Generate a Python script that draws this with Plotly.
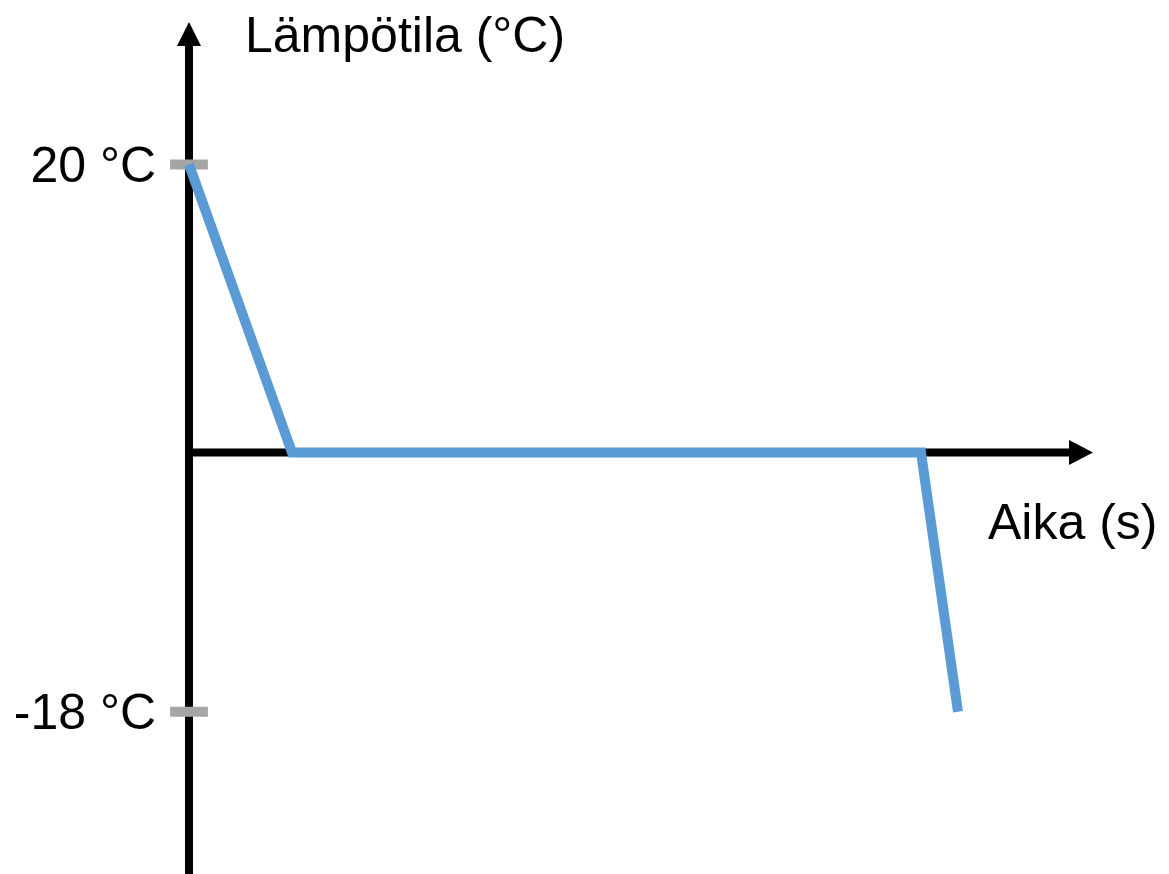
import plotly.graph_objects as go

# Data
time = [0, 1.03, 7.32, 7.69]
temperature = [20, 0, 0, -18]
tick_values = [20, -18]
tick_labels = ["20 °C", "-18 °C"]
x_title = "Aika (s)"
y_title = "Lämpötila (°C)"

W, H = 1169, 874
PX_X = 100.0   # pixels per time unit
PX_Y = 14.4    # pixels per degree
X0_PX = 189    # pixel of time 0
Y0_PX = 452.5  # pixel of temperature 0

xr = [-X0_PX / PX_X, (W - X0_PX) / PX_X]
yr = [-(H - Y0_PX) / PX_Y, Y0_PX / PX_Y]

def xd(px):
    return (px - X0_PX) / PX_X

def yd(py):
    return (Y0_PX - py) / PX_Y

FONT = "Liberation Sans, Arial, sans-serif"

fig = go.Figure()

# gray tick marks on the temperature axis
fig.add_trace(go.Scatter(
    x=[0] * len(tick_values), y=tick_values, mode="markers",
    marker=dict(symbol="line-ew", size=27, line=dict(width=10, color="#A5A5A5")),
    hoverinfo="skip", showlegend=False, cliponaxis=False,
))

# temperature curve
fig.add_trace(go.Scatter(
    x=time, y=temperature, mode="lines",
    line=dict(color="#5B9BD5", width=10),
    showlegend=False, hoverinfo="x+y",
))

shapes = [
    # vertical axis line
    dict(type="line", xref="x", yref="y", x0=0, x1=0, y0=yr[0] - 1, y1=yd(43),
         line=dict(color="black", width=8), layer="below"),
    # vertical arrowhead
    dict(type="path", xref="x", yref="y",
         path=f"M {xd(X0_PX-12)} {yd(46)} L {xd(X0_PX)} {yd(22)} L {xd(X0_PX+12)} {yd(46)} Z",
         fillcolor="black", line=dict(width=0), layer="below"),
    # horizontal axis line
    dict(type="line", xref="x", yref="y", x0=xd(X0_PX - 4), x1=xd(1072), y0=0, y1=0,
         line=dict(color="black", width=8), layer="below"),
    # horizontal arrowhead
    dict(type="path", xref="x", yref="y",
         path=f"M {xd(1069)} {yd(Y0_PX-12.5)} L {xd(1093)} {yd(Y0_PX)} L {xd(1069)} {yd(Y0_PX+12.5)} Z",
         fillcolor="black", line=dict(width=0), layer="below"),
]

annotations = [
    dict(text=y_title, xref="paper", yref="paper", x=243 / W, y=1 - 35 / H,
         xanchor="left", yanchor="middle", showarrow=False,
         font=dict(family=FONT, size=50, color="black")),
    dict(text=x_title, xref="paper", yref="paper", x=986 / W, y=1 - 522 / H,
         xanchor="left", yanchor="middle", showarrow=False,
         font=dict(family=FONT, size=50, color="black")),
]

fig.update_layout(
    width=W, height=H,
    margin=dict(l=0, r=0, t=0, b=0),
    paper_bgcolor="white", plot_bgcolor="white",
    shapes=shapes, annotations=annotations,
    showlegend=False,
    xaxis=dict(range=xr, domain=[0, 1], visible=False, fixedrange=True),
    yaxis=dict(range=yr, domain=[0, 1], anchor="free", position=X0_PX / W,
               showline=False, showgrid=False, zeroline=False, ticks="",
               tickvals=tick_values, ticktext=tick_labels,
               ticklabelstandoff=33,
               tickfont=dict(family=FONT, size=50, color="black"),
               fixedrange=True),
)

fig.write_html(
    "out.html",
    config={"displayModeBar": False},
    post_script="document.body.style.margin='0';document.body.style.overflow='hidden';",
)
